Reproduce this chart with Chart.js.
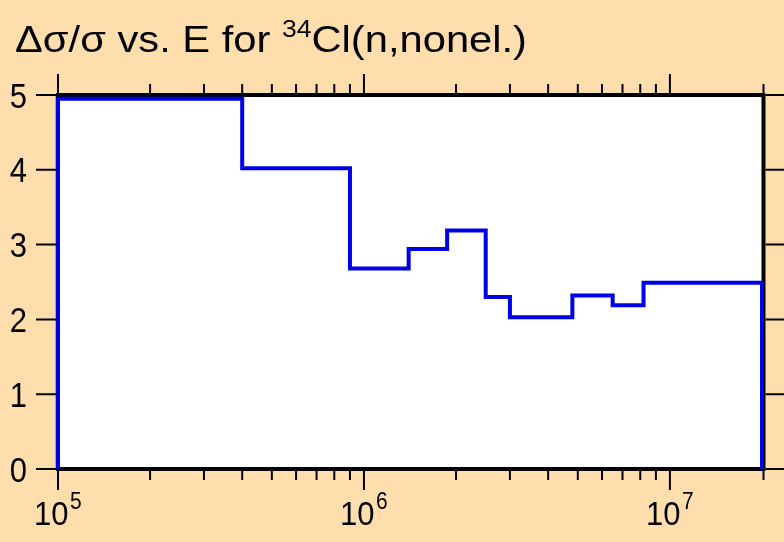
<!DOCTYPE html>
<html>
<head>
<meta charset="utf-8">
<script src="https://cdn.jsdelivr.net/npm/chart.js@4.4.1/dist/chart.umd.min.js"></script>
<style>
html, body { margin: 0; padding: 0; background: #FFDEAD; }
canvas { display: block; }
</style>
</head>
<body>
<canvas id="grafico" width="784" height="542"></canvas>
<script>
// Bordes de los intervalos de energía (eV) y la incertidumbre relativa de cada uno
const energias = [1e5, 4e5, 9e5, 1.4e6, 1.87e6, 2.5e6, 3e6, 4.8e6, 6.5e6, 8.2e6, 2e7];
const incertidumbres = [4.95, 4.02, 2.68, 2.94, 3.19, 2.30, 2.03, 2.32, 2.19, 2.49];
const ticksY = [0, 1, 2, 3, 4, 5];
const decadas = [5, 6, 7];

const FUENTE = "'Liberation Sans', Arial, sans-serif";

// Puntos del histograma (con bajada a cero en los extremos)
const puntos = [{ x: energias[0], y: 0 }];
incertidumbres.forEach((v, i) => puntos.push({ x: energias[i], y: v }));
puntos.push({ x: energias[energias.length - 1], y: incertidumbres[incertidumbres.length - 1] });
puntos.push({ x: energias[energias.length - 1], y: 0 });

// Valores de las marcas menores del eje x
const menores = [];
decadas.forEach(d => {
    for (let k = 2; k <= 9; k++) {
        const v = k * Math.pow(10, d);
        if (v <= 2e7) menores.push(v);
    }
});

// Texto estirado (la fuente del original es algo más alta)
function texto(ctx, t, x, y, size, ex, ey, align) {
    ctx.save();
    ctx.font = size + 'px ' + FUENTE;
    ctx.translate(x, y);
    ctx.scale(ex, ey);
    ctx.textAlign = align || 'left';
    ctx.fillText(t, 0, 0);
    ctx.restore();
}

const marco = {
    id: 'marco',
    beforeDraw(chart) {
        const ctx = chart.ctx;
        const a = chart.chartArea;
        ctx.save();
        ctx.fillStyle = '#FFDEAD';
        ctx.fillRect(0, 0, chart.width, chart.height);
        ctx.fillStyle = '#FFFFFF';
        ctx.fillRect(a.left, a.top, a.right - a.left, a.bottom - a.top);
        ctx.restore();
    },
    beforeDatasetsDraw(chart) {
        const ctx = chart.ctx;
        const a = chart.chartArea;
        ctx.save();
        ctx.strokeStyle = '#000';
        ctx.lineCap = 'square';
        ctx.lineWidth = 4;
        ctx.beginPath();
        ctx.moveTo(a.left, a.top); ctx.lineTo(a.right + 1.5, a.top);
        ctx.moveTo(a.left, a.bottom); ctx.lineTo(a.right + 1.5, a.bottom);
        ctx.moveTo(a.right + 1.5, a.top); ctx.lineTo(a.right + 1.5, a.bottom);
        ctx.stroke();
        ctx.lineWidth = 1.5;
        ctx.beginPath();
        ctx.moveTo(a.left - 1.5, a.top); ctx.lineTo(a.left - 1.5, a.bottom);
        ctx.stroke();
        ctx.restore();
    },
    afterDraw(chart) {
        const ctx = chart.ctx;
        const a = chart.chartArea;
        const sx = chart.scales.x;
        const sy = chart.scales.y;
        ctx.save();
        ctx.strokeStyle = '#000';
        ctx.lineWidth = 2;
        ctx.lineCap = 'butt';

        // marcas del eje y (izquierda y derecha)
        ticksY.forEach(v => {
            const y = sy.getPixelForValue(v);
            ctx.beginPath();
            ctx.moveTo(36, y); ctx.lineTo(a.left - 1.5, y);
            ctx.moveTo(a.right + 3.5, y); ctx.lineTo(chart.width, y);
            ctx.stroke();
        });

        // marcas del eje x (abajo y arriba)
        const marcaX = (v, largo) => {
            let x = sx.getPixelForValue(v);
            if (v === 2e7) x += 1.5;
            ctx.beginPath();
            ctx.moveTo(x, a.bottom + 2); ctx.lineTo(x, a.bottom + largo);
            ctx.moveTo(x, a.top - 2); ctx.lineTo(x, a.top - largo);
            ctx.stroke();
        };
        decadas.forEach(d => marcaX(Math.pow(10, d), 21));
        menores.forEach(v => marcaX(v, 11));

        // etiquetas del eje y
        ctx.fillStyle = '#000';
        ctx.textBaseline = 'alphabetic';
        ticksY.forEach(v => texto(ctx, String(v), 27, sy.getPixelForValue(v) + 12.5, 31, 1, 1.13, 'right'));

        // etiquetas del eje x: 10 con exponente
        decadas.forEach(d => {
            const x = sx.getPixelForValue(Math.pow(10, d));
            ctx.font = '31px ' + FUENTE;
            const w1 = ctx.measureText('10').width;
            const x0 = x - 24;
            texto(ctx, '10', x0, 525, 31, 1, 1.1);
            texto(ctx, String(d), x0 + w1 + 1.5, 509, 21, 1, 1.1);
        });

        // título, ajustado al ancho del original
        const parte1 = '\u0394\u03c3/\u03c3 vs. E for ';
        const parte2 = 'Cl(n,nonel.)';
        ctx.font = '33px ' + FUENTE;
        const wa = ctx.measureText(parte1).width;
        const wc = ctx.measureText(parte2).width;
        ctx.font = '21px ' + FUENTE;
        const wb = ctx.measureText('34').width;
        const ex = 512 / (wa + wb + wc);
        const ey = 1.144;
        ctx.translate(15, 52);
        ctx.scale(ex, ey);
        ctx.textAlign = 'left';
        ctx.font = '33px ' + FUENTE;
        ctx.fillText(parte1, 0, 0);
        ctx.font = '21px ' + FUENTE;
        ctx.fillText('34', wa, -13);
        ctx.font = '33px ' + FUENTE;
        ctx.fillText(parte2, wa + wb, 0);
        ctx.restore();
    }
};

const ctx = document.getElementById('grafico').getContext('2d');

new Chart(ctx, {
    type: 'line',
    data: {
        datasets: [{
            data: puntos,
            stepped: 'before',
            borderColor: '#0000E6',
            borderWidth: 4,
            pointRadius: 0,
            fill: false,
            clip: false,
            borderJoinStyle: 'miter'
        }]
    },
    options: {
        responsive: false,
        devicePixelRatio: 1,
        animation: false,
        layout: { padding: { left: 58, top: 95, right: 22, bottom: 73 } },
        plugins: {
            legend: { display: false },
            tooltip: { enabled: false },
            title: { display: false }
        },
        scales: {
            x: { type: 'logarithmic', min: 1e5, max: 2e7, display: false },
            y: { type: 'linear', min: 0, max: 5, display: false }
        }
    },
    plugins: [marco]
});
</script>
</body>
</html>
